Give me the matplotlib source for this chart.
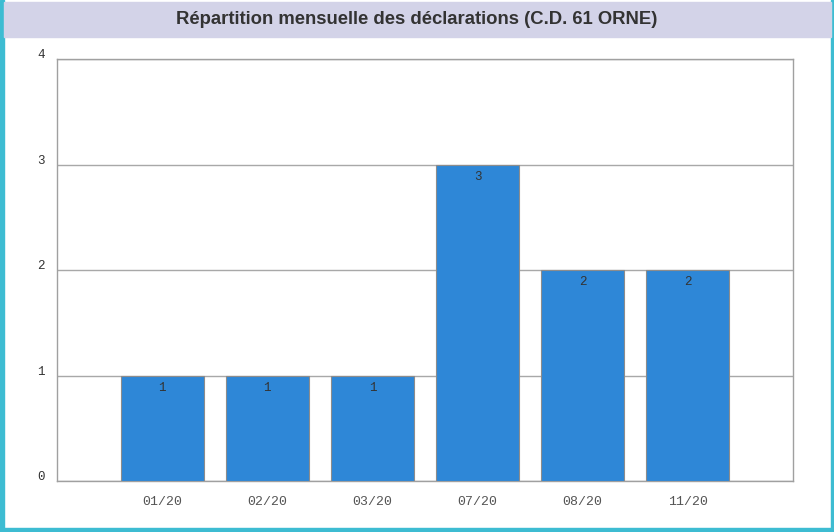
import matplotlib
matplotlib.use('Agg')
from matplotlib import pyplot as plt
from matplotlib.patches import Rectangle

mois = ['01/20', '02/20', '03/20', '07/20', '08/20', '11/20']
declarations = [1, 1, 1, 3, 2, 2]
yticks = [0, 1, 2, 3, 4]
titre = 'Répartition mensuelle des déclarations (C.D. 61 ORNE)'

W, H = 834, 532
fig = plt.figure(figsize=(W / 100, H / 100), dpi=100)
fig.patch.set_facecolor('white')

# cadre cyan + bandeau du titre
cyan = '#3dbcd2'
fig.patches.append(Rectangle((0, 0), 4 / W, 1, transform=fig.transFigure, color=cyan, zorder=0))
fig.patches.append(Rectangle((1 - 3 / W, 0), 3 / W, 1, transform=fig.transFigure, color=cyan, zorder=0))
fig.patches.append(Rectangle((0, 0), 1, 4 / H, transform=fig.transFigure, color=cyan, zorder=0))
fig.patches.append(Rectangle((4 / W, 1 - 37 / H), 1 - 7 / W, 35 / H, transform=fig.transFigure,
                             color='#d3d3e8', zorder=0))
fig.text(0.5, 1 - 19 / H, titre, ha='center', va='center', fontsize=13.3, fontweight='bold',
         family='Liberation Sans', color='#333333')

ax = fig.add_axes([57 / W, 1 - 481 / H, (793 - 57) / W, (481 - 59) / H])
x = list(range(1, len(mois) + 1))
ax.bar(x, declarations, width=0.79, color='#2e87d7', edgecolor='#8c8c8c', linewidth=0.8, zorder=3)
for xi, v in zip(x, declarations):
    ax.text(xi, v - 0.06, str(v), ha='center', va='top', fontsize=9, family='Liberation Mono',
            color='#333333', zorder=4)

ax.set_xlim(0, 7)
ax.set_ylim(0, 4)
ax.set_yticks(yticks)
ax.set_yticklabels([])
for t in yticks:
    ax.text(-0.115, t + 0.035, str(t), ha='right', va='center', fontsize=9, family='Liberation Mono',
            color='#333333')
ax.set_xticks(x)
ax.set_xticklabels(mois, family='Liberation Mono', fontsize=9.5, color='#555555')
ax.tick_params(length=0, pad=11)
ax.grid(axis='y', color='#a8a8a8', linewidth=1, zorder=1)
for s in ax.spines.values():
    s.set_color('#a0a0a0')
    s.set_linewidth(1)

plt.savefig('out.png', dpi=100)
